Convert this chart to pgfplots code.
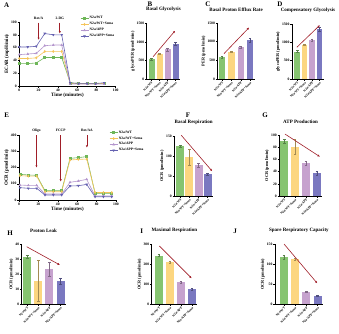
\documentclass[border=0pt]{standalone}
\usepackage{fontspec}
\setmainfont{Liberation Serif}
\usepackage{pgfplots}
\pgfplotsset{compat=1.18}
\usetikzlibrary{arrows.meta}
\definecolor{gr}{RGB}{134,196,112}
\definecolor{ye}{RGB}{252,214,128}
\definecolor{li}{RGB}{198,162,206}
\definecolor{bl}{RGB}{122,120,192}
\definecolor{grL}{RGB}{110,182,88}
\definecolor{yeL}{RGB}{245,196,90}
\definecolor{liL}{RGB}{180,150,205}
\definecolor{blL}{RGB}{100,96,176}
\definecolor{arr}{RGB}{160,30,40}
\newcommand{\tk}{\bfseries\fontsize{3.7}{4}\selectfont}
\pgfplotsset{
  every axis/.append style={scale only axis, anchor=south west, clip=false,
    axis x line*=bottom, axis y line*=left, axis line style={-,line width=0.55pt},
    tick align=outside, major tick length=1.6pt, tick style={line width=0.45pt,black},
    tick label style={font=\tk, inner sep=0.8pt}, /pgf/number format/assume math mode=true,
    /pgf/number format/1000 sep={},
    label style={font=\bfseries\fontsize{5}{5.5}\selectfont},
    title style={font=\bfseries\fontsize{5}{5.5}\selectfont, at={(0.5,1)}, anchor=south, yshift=5.5pt, inner sep=0pt},
    xlabel style={inner sep=1pt}, ylabel style={inner sep=1pt}},
  bp/.style={ymin=0, xtick={1,2,3,4},
    xticklabels={N2a/WT,N2a/WT+Sema,N2a/APP,N2a/APP+Sema},
    xticklabel style={rotate=45, anchor=north east, font=\bfseries\fontsize{3.2}{3.5}\selectfont, inner sep=0.5pt},
    ylabel style={font=\bfseries\fontsize{4.3}{4.7}\selectfont}},
  bb/.style={ybar, bar shift=0pt, draw=none, fill=#1,
    error bars/.cd, y dir=both, y explicit,
    error bar style={line width=0.45pt, #1!65!black},
    error mark options={rotate=90, mark size=1.3pt, line width=0.45pt, #1!65!black}},
  ln/.style={color=#1, line width=0.6pt, mark size=1pt, mark options={solid,fill=#1}},
  legimg/.style={legend image code/.code={\draw[mark repeat=2,mark phase=2,##1] plot coordinates {(0pt,0pt) (4pt,0pt) (8pt,0pt)};}},
}
\tikzset{ar/.style={-{Latex[length=2.4pt,width=2.2pt]}, arr, line width=0.6pt}}
\begin{document}
\begin{tikzpicture}
\path[use as bounding box] (0,0) rectangle (339pt,-333pt);
\tikzset{lt/.style={font=\bfseries\fontsize{7}{8}\selectfont, inner sep=0pt}}
\node[lt] at (6.7pt,-5pt) {A};
\node[lt] at (150pt,-4pt) {B};
\node[lt] at (208pt,-4pt) {C};
\node[lt] at (280pt,-4pt) {D};
\node[lt] at (6.7pt,-115pt) {E};
\node[lt] at (188pt,-115pt) {F};
\node[lt] at (265pt,-115pt) {G};
\node[lt] at (10pt,-233pt) {H};
\node[lt] at (141.7pt,-231pt) {I};
\node[lt] at (235pt,-231pt) {J};

% ---------- A ----------
\begin{axis}[at={(19.3pt,-86pt)}, width=96.4pt, height=64pt,
  xmin=0, xmax=100, ymin=0, ymax=100, xtick={0,20,...,100}, ytick={0,20,...,100},
  xlabel={Time (minutes)}, ylabel={ECAR (mpH/min)}, legimg,
  legend style={at={(0.63,1.1)}, anchor=north west, draw=none, fill=none,
    font=\bfseries\fontsize{3.6}{4}\selectfont, row sep=0.4pt, inner sep=0pt,
    nodes={inner sep=0.8pt}}, legend cell align=left]
\addplot[ln=grL, mark=square*] coordinates {(0,35) (8.8,35) (17.6,36) (26.4,44.5) (35.2,44.5) (44,44.5) (52.8,5) (61.6,4) (70.4,4) (79.2,4) (88,4)};
\addplot[ln=yeL, mark=diamond*] coordinates {(0,43) (8.8,43) (17.6,44) (26.4,54) (35.2,54) (44,54) (52.8,4) (61.6,3.5) (70.4,3.5) (79.2,3.5) (88,4)};
\addplot[ln=liL, mark=triangle*] coordinates {(0,49) (8.8,50) (17.6,51) (26.4,63) (35.2,64) (44,64) (52.8,3) (61.6,3) (70.4,3) (79.2,3) (88,3)};
\addplot[ln=blL, mark=triangle*, mark options={rotate=180}] coordinates {(0,61) (8.8,61) (17.6,62) (26.4,82) (35.2,80) (44,80) (52.8,5) (61.6,4) (70.4,4) (79.2,4) (88,5)};
\legend{N2a/WT, N2a/WT+Sema, N2a/APP, N2a/APP+Sema}
\draw[ar] (axis cs:20,99) -- (axis cs:20,72);
\draw[ar] (axis cs:42,99) -- (axis cs:42,82);
\node[font=\bfseries\fontsize{3.6}{4}\selectfont, inner sep=0pt] at (axis cs:20,105) {Rot/A};
\node[font=\bfseries\fontsize{3.6}{4}\selectfont, inner sep=0pt] at (axis cs:42,105) {2-DG};
\end{axis}

% ---------- E ----------
\begin{axis}[at={(19pt,-200pt)}, width=97pt, height=65pt,
  xmin=0, xmax=100, ymin=0, ymax=400, xtick={0,20,...,100}, ytick={0,100,...,400},
  xlabel={Time (minutes)}, ylabel={OCR (pmol/min)}, legimg,
  legend style={at={(0.93,1.08)}, anchor=north west, draw=none, fill=none,
    font=\bfseries\fontsize{3.6}{4}\selectfont, row sep=0.4pt, inner sep=0pt,
    nodes={inner sep=0.8pt}}, legend cell align=left]
\addplot[ln=grL, mark=square*] coordinates {(1,158) (9.6,154) (18.2,152) (26.8,57) (35.4,57) (44,57) (52.6,256) (61.2,261) (69.8,267) (78.4,41) (87,41) (95.6,41)};
\addplot[ln=yeL, mark=diamond*] coordinates {(1,150) (9.6,147) (18.2,147) (26.8,51) (35.4,51) (44,51) (52.6,246) (61.2,250) (69.8,252) (78.4,46) (87,46) (95.6,46)};
\addplot[ln=liL, mark=triangle*] coordinates {(1,92) (9.6,90) (18.2,90) (26.8,37) (35.4,37) (44,37) (52.6,109) (61.2,117) (69.8,127) (78.4,25) (87,25) (95.6,25)};
\addplot[ln=blL, mark=triangle*, mark options={rotate=180}] coordinates {(1,76) (9.6,72) (18.2,72) (26.8,31) (35.4,31) (44,31) (52.6,86) (61.2,88) (69.8,96) (78.4,20) (87,20) (95.6,20)};
\legend{N2a/WT, N2a/WT+Sema, N2a/APP, N2a/APP+Sema}
\draw[ar] (axis cs:18,398) -- (axis cs:18,199);
\draw[ar] (axis cs:43,398) -- (axis cs:43,113);
\draw[ar] (axis cs:70,398) -- (axis cs:70,322);
\node[font=\bfseries\fontsize{3.6}{4}\selectfont, inner sep=0pt] at (axis cs:18,428) {Oligo};
\node[font=\bfseries\fontsize{3.6}{4}\selectfont, inner sep=0pt] at (axis cs:43,428) {FCCP};
\node[font=\bfseries\fontsize{3.6}{4}\selectfont, inner sep=0pt] at (axis cs:70,428) {Rot/AA};
\end{axis}

% ---------- B ----------
\begin{axis}[bp, at={(146.7pt,-79pt)}, width=33.6pt, height=55.7pt, xmin=0.4, xmax=4.6,
  ymax=1500, ytick={0,500,1000,1500}, title={Basal Glycolysis}, ylabel={glycoPER (pmol/min)}]
\addplot[bar width=6pt, bb=gr] coordinates {(1,527) +- (0,20)};
\addplot[bar width=6pt, bb=ye] coordinates {(2,670) +- (0,15)};
\addplot[bar width=6pt, bb=li] coordinates {(3,795) +- (0,40)};
\addplot[bar width=6pt, bb=bl] coordinates {(4,955) +- (0,40)};
\draw[ar] (axis cs:1.2,600) -- (axis cs:3.95,1300);
\end{axis}

% ---------- C ----------
\begin{axis}[bp, at={(217.5pt,-79pt)}, width=37.2pt, height=56pt, xmin=0.5, xmax=4.5,
  ymax=1500, ytick={0,500,1000,1500}, title={Basal Proton Efflux Rate}, ylabel={PER (pmol/min)}]
\addplot[bar width=6.5pt, bb=gr] coordinates {(1,580) +- (0,25)};
\addplot[bar width=6.5pt, bb=ye] coordinates {(2,732) +- (0,15)};
\addplot[bar width=6.5pt, bb=li] coordinates {(3,848) +- (0,35)};
\addplot[bar width=6.5pt, bb=bl] coordinates {(4,1045) +- (0,50)};
\draw[ar] (axis cs:1.2,680) -- (axis cs:3.9,1380);
\end{axis}

% ---------- D ----------
\begin{axis}[bp, at={(292pt,-79pt)}, width=32pt, height=55pt, xmin=0.3, xmax=4.6,
  ymax=1500, ytick={0,500,1000,1500}, title={Compensatory Glycolysis}, ylabel={glycoPER (pmol/min)}]
\addplot[bar width=5.5pt, bb=gr] coordinates {(1,750) +- (0,30)};
\addplot[bar width=5.5pt, bb=ye] coordinates {(2,929) +- (0,15)};
\addplot[bar width=5.5pt, bb=li] coordinates {(3,1063) +- (0,35)};
\addplot[bar width=5.5pt, bb=bl] coordinates {(4,1357) +- (0,60)};
\draw[ar] (axis cs:0.95,865) -- (axis cs:4.05,1470);
\end{axis}

% ---------- F ----------
\begin{axis}[bp, at={(174.3pt,-196pt)}, width=38.8pt, height=60pt, xmin=0.34, xmax=4.6,
  ymax=150, ytick={0,50,100,150}, title={Basal Respiration}, ylabel={OCR (pmol/min)}]
\addplot[bar width=8pt, bb=gr] coordinates {(1,125) +- (0,2)};
\addplot[bar width=8pt, bb=ye] coordinates {(2,98) +- (0,20)};
\addplot[bar width=8pt, bb=li] coordinates {(3,77) +- (0,5)};
\addplot[bar width=8pt, bb=bl] coordinates {(4,55) +- (0,2)};
\draw[ar] (axis cs:1.1,152) -- (axis cs:4.5,62);
\end{axis}

% ---------- G ----------
\begin{axis}[bp, at={(279.3pt,-196pt)}, width=42.5pt, height=61pt, xmin=0.55, xmax=4.45,
  ymax=100, ytick={0,20,...,100}, title={ATP Production}, ylabel={OCR (pmol/min)}]
\addplot[bar width=8pt, bb=gr] coordinates {(1,90) +- (0,3)};
\addplot[bar width=8pt, bb=ye] coordinates {(2,81) +- (0,12)};
\addplot[bar width=8pt, bb=li] coordinates {(3,53.5) +- (0,3)};
\addplot[bar width=8pt, bb=bl] coordinates {(4,37) +- (0,3)};
\draw[ar] (axis cs:1.07,101.6) -- (axis cs:4.28,64.4);
\end{axis}

% ---------- H ----------
\begin{axis}[bp, at={(21.7pt,-304.3pt)}, width=43.8pt, height=60pt, xmin=0.5, xmax=4.45,
  ymax=40, ytick={0,10,...,40}, title={Proton Leak}, ylabel={OCR (pmol/min)}]
\addplot[bar width=8pt, bb=gr] coordinates {(1,31.8) +- (0,1)};
\addplot[bar width=8pt, bb=ye] coordinates {(2,15.8) +- (0,13.5)};
\addplot[bar width=8pt, bb=li] coordinates {(3,23.5) +- (0,4.5)};
\addplot[bar width=8pt, bb=bl] coordinates {(4,15.6) +- (0,2)};
\draw[ar] (axis cs:0.95,38.4) -- (axis cs:3.95,26.2);
\end{axis}

% ---------- I ----------
\begin{axis}[bp, at={(151.7pt,-304.3pt)}, width=45.4pt, height=60pt, xmin=0.36, xmax=4.45,
  ymax=300, ytick={0,100,...,300}, title={Maximal Respiration}, ylabel={OCR (pmol/min)}]
\addplot[bar width=8pt, bb=gr] coordinates {(1,243) +- (0,5)};
\addplot[bar width=8pt, bb=ye] coordinates {(2,212) +- (0,5)};
\addplot[bar width=8pt, bb=li] coordinates {(3,110) +- (0,4)};
\addplot[bar width=8pt, bb=bl] coordinates {(4,75) +- (0,5)};
\draw[ar] (axis cs:1.05,291.5) -- (axis cs:3.96,130);
\end{axis}

% ---------- J ----------
\begin{axis}[bp, at={(275pt,-304.3pt)}, width=47.8pt, height=60pt, xmin=0.22, xmax=4.45,
  ymax=150, ytick={0,50,100,150}, title={Spare Respiratory Capacity}, ylabel={OCR (pmol/min)}]
\addplot[bar width=8pt, bb=gr] coordinates {(1,117.5) +- (0,5)};
\addplot[bar width=8pt, bb=ye] coordinates {(2,112.5) +- (0,3)};
\addplot[bar width=8pt, bb=li] coordinates {(3,31.7) +- (0,2)};
\addplot[bar width=8pt, bb=bl] coordinates {(4,21.7) +- (0,1)};
\draw[ar] (axis cs:1.02,150.7) -- (axis cs:3.96,52.5);
\end{axis}
\end{tikzpicture}
\end{document}
